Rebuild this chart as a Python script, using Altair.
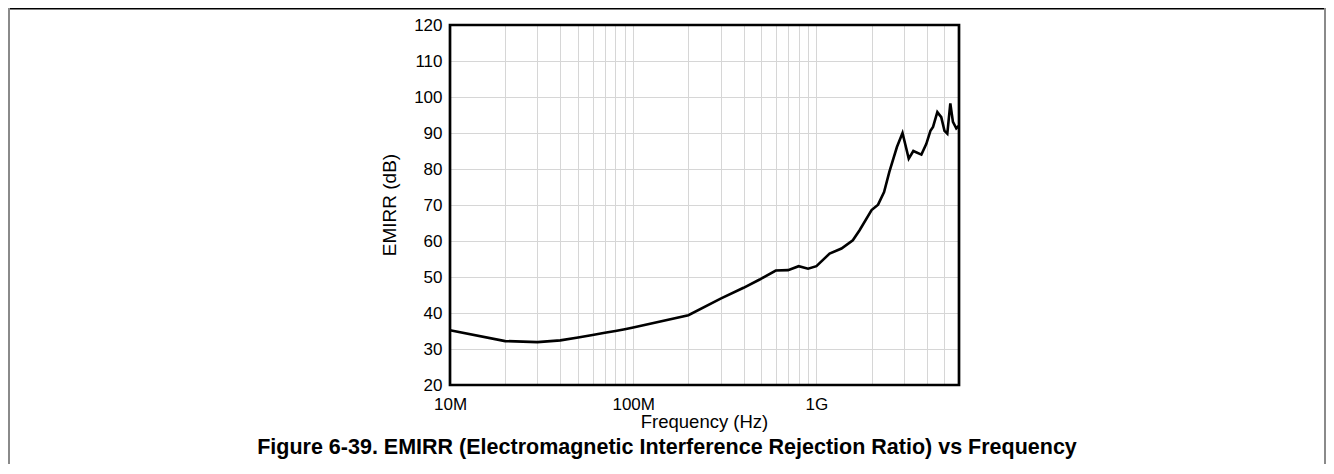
import altair as alt
import pandas as pd

# ---- data ----
freq_hz = [1e7, 2e7, 3e7, 4e7, 5e7, 6e7, 7e7, 8e7, 9e7, 1e8,
           2e8, 3e8, 4e8, 4.9e8, 6e8, 7e8, 8e8, 9e8, 1e9,
           1.18e9, 1.37e9, 1.58e9, 1.72e9, 2.0e9, 2.17e9, 2.34e9, 2.5e9,
           2.75e9, 2.95e9, 3.19e9, 3.38e9, 3.74e9, 3.98e9, 4.19e9, 4.33e9,
           4.57e9, 4.8e9, 5.0e9, 5.18e9, 5.38e9, 5.56e9, 5.8e9, 6.0e9]
emirr_db = [35.2, 32.2, 31.9, 32.4, 33.2, 33.9, 34.5, 35.0, 35.5, 36.0,
            39.4, 44.0, 47.0, 49.3, 51.8, 51.9, 53.0, 52.3, 53.0,
            56.5, 57.9, 60.2, 63.0, 68.6, 70.1, 73.6, 79.2,
            86.1, 90.0, 82.9, 85.0, 84.0, 87.0, 90.6, 91.7,
            95.8, 94.4, 90.6, 89.8, 98.2, 93.1, 91.3, 92.0]

x_grid_values = [1e7, 2e7, 3e7, 4e7, 5e7, 6e7, 7e7, 8e7, 9e7,
                 1e8, 2e8, 3e8, 4e8, 5e8, 6e8, 7e8, 8e8, 9e8,
                 1e9, 2e9, 3e9, 4e9, 5e9, 6e9]
x_label_values = [1e7, 1e8, 1e9]
x_label_texts = ["10M", "100M", "1G"]
y_tick_values = [20, 30, 40, 50, 60, 70, 80, 90, 100, 110, 120]

title_text = "Figure 6-39. EMIRR (Electromagnetic Interference Rejection Ratio) vs Frequency"
x_title = "Frequency (Hz)"
y_title = "EMIRR (dB)"

FONT = "Liberation Sans"

df = pd.DataFrame({"f": freq_hz, "db": emirr_db})
one = pd.DataFrame({"k": [0]})

label_expr = " : ".join(
    f"datum.value == {int(v)} ? '{t}'" for v, t in zip(x_label_values, x_label_texts)
) + " : ''"

x_scale = alt.Scale(type="log", domain=[1e7, 6e9], nice=False)
y_scale = alt.Scale(domain=[20, 120], nice=False, zero=False)

line = alt.Chart(df).mark_line(color="black", strokeWidth=2.6).encode(
    x=alt.X("f:Q", scale=x_scale,
            axis=alt.Axis(values=x_grid_values, labelExpr=label_expr, title=None,
                          labelPadding=11, labelOverlap=False, labelFlush=False)),
    y=alt.Y("db:Q", scale=y_scale,
            axis=alt.Axis(values=y_tick_values, title=None, labelPadding=8)),
)

frame = alt.Chart(one).mark_rect(fillOpacity=0, stroke="black", strokeWidth=2.7).encode(
    x=alt.value(0), x2=alt.value("width"), y=alt.value(0), y2=alt.value("height")
)

top_line = alt.Chart(one).mark_rule(color="black", strokeWidth=1.5).encode(
    x=alt.value(-441), x2=alt.value(876), y=alt.value(-16.3)
)
left_line = alt.Chart(one).mark_rule(color="#8a8a8a", strokeWidth=2).encode(
    x=alt.value(-441), y=alt.value(-17), y2=alt.value(439)
)
right_line = alt.Chart(one).mark_rule(color="#8a8a8a", strokeWidth=2).encode(
    x=alt.value(875), y=alt.value(-17), y2=alt.value(439)
)

title = alt.Chart(one).mark_text(font=FONT, fontSize=21.5, fontWeight="bold",
                                 color="black", align="center", baseline="middle").encode(
    x=alt.value(217), y=alt.value(423), text=alt.value(title_text)
)
xt = alt.Chart(one).mark_text(font=FONT, fontSize=18.5, color="black",
                              align="center", baseline="middle").encode(
    x=alt.value(254.5), y=alt.value(397), text=alt.value(x_title)
)
yt = alt.Chart(one).mark_text(font=FONT, fontSize=19, color="black", angle=270,
                              align="center", baseline="middle").encode(
    x=alt.value(-60.5), y=alt.value(180), text=alt.value(y_title)
)

chart = alt.layer(line, frame, top_line, left_line, right_line, title, xt, yt).properties(
    width=509, height=360,
    autosize=alt.AutoSizeParams(type="none"),
    padding={"left": 442, "top": 17, "right": 367, "bottom": 79},
    background="white",
).configure_view(stroke=None).configure_axis(
    labelFont=FONT, labelFontSize=17, labelColor="black",
    domain=False, ticks=False, gridColor="#d6d6d6", gridWidth=1,
)

chart.save("out.html", embed_options={"renderer": "svg", "actions": False})
